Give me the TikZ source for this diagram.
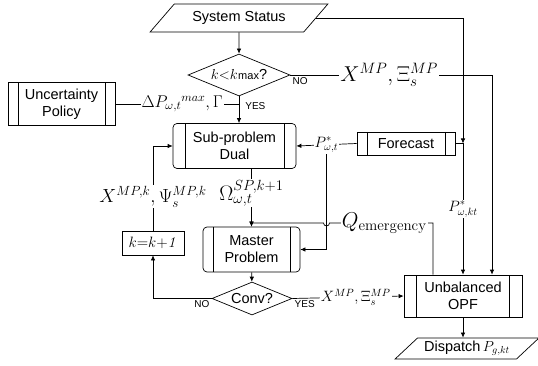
\documentclass[tikz,border=0pt]{standalone}
\usepackage{fix-cm}
\usepackage[no-math]{fontspec}
\setmainfont{Liberation Sans}
\usetikzlibrary{shapes.geometric,arrows.meta}

\newcommand\fsz[1]{\fontsize{#1}{#1}\selectfont}

\tikzset{
  flow/.style={-{Latex[length=5pt,width=4.5pt]}},
  proc/.style={draw, align=center, inner sep=0pt,
    font=\fontsize{14.5}{17}\selectfont,
    path picture={\draw ([xshift=#1]path picture bounding box.north west) -- ([xshift=#1]path picture bounding box.south west)
      ([xshift=-#1]path picture bounding box.north east) -- ([xshift=-#1]path picture bounding box.south east);}},
  proc/.default=10pt,
  io/.style={draw, trapezium, trapezium left angle=37, trapezium right angle=143,
    trapezium stretches=true, inner sep=0pt, font=\fontsize{14.5}{17}\selectfont},
  decide/.style={draw, diamond, aspect=2.4, inner sep=0pt, font=\fontsize{14.5}{17}\selectfont},
  lbl/.style={fill=white, inner sep=1pt},
  yesno/.style={inner sep=2pt, font=\fontsize{10}{10}\selectfont},
}

\begin{document}
\begin{tikzpicture}[x=1pt, y=-1pt, line width=0.7pt]
    \useasboundingbox (0,0) rectangle (538,366);

    \node[io, minimum width=178pt, minimum height=28pt] (status) at (239,18) {System Status};
    \node[decide, minimum width=102pt, minimum height=42pt] (kmax) at (239,75) {$k{<}k$\kern.5pt{\fsz{11}max}?};
    \node[proc, minimum width=107pt, minimum height=43pt] (policy) at (61.5,104) {Uncertainty\\Policy};
    \node[proc=12pt, rounded corners=4pt, minimum width=123pt, minimum height=45pt] (sub) at (234.5,146) {Sub-problem\\Dual};
    \node[proc, minimum width=98pt, minimum height=23pt] (forecast) at (406,143.5) {Forecast};
    \node[proc, rounded corners=4pt, minimum width=97pt, minimum height=45pt] (master) at (251.5,249.5) {Master\\Problem};
    \node[draw, minimum width=62pt, minimum height=24pt, font=\fsz{15}] (incr) at (153,243) {$k{=}k{+}\mathit{1}$};
    \node[decide, minimum width=80pt, minimum height=33pt] (conv) at (252,298.5) {Conv?};
    \node[proc=12.5pt, minimum width=118pt, minimum height=42pt] (opf) at (463,296) {Unbalanced\\OPF};
    \node[io, minimum width=144pt, minimum height=21pt] (dispatch) at (467,348.5) {Dispatch\,$P_{g,kt}$};

    \coordinate (xtop) at (492,75);
    \coordinate (fjoin) at (463,143.5);
    \coordinate (qtop) at (433,223);

    \draw[flow] (status) -- (kmax);
    \draw[flow] (kmax.south) -- node[right, yesno, pos=.36, xshift=4pt]{YES} (kmax.south |- sub.north);
    \draw (policy.east) -- node[lbl, pos=.54]{\fsz{17}$\Delta P_{\omega,t}{}^{max},\Gamma$} (policy -| kmax.south);
    \draw[flow] (kmax.east) -- node[pos=0, below right, yesno]{NO}
        node[lbl, pos=.49]{\fsz{21.5}$X^{MP},\Xi_s^{MP}$} (xtop) -- (xtop |- opf.north);

    % forecast and system status feed the OPF
    \draw[flow] (status.east) -| (fjoin);
    \draw (forecast.east) -- (fjoin);
    \draw[flow] (fjoin) -- node[lbl]{\fsz{15}$P^*_{\omega,kt}$} (fjoin |- opf.north);
    \draw[flow] (forecast.west) -- node[lbl] (pst) {\fsz{15}$P^*_{\omega,t}$} (sub.east);
    \draw[flow] (pst.south) |- (master.east);

    \draw[flow] (sub.south -| master.north) -- node[lbl, pos=.42]{\fsz{21}$\Omega^{SP,k+1}_{\omega,t}$} (master.north);
    \draw[flow] (qtop |- opf.north) -- (qtop) -- node[lbl, pos=.47]{\fsz{21.5}$Q_{\mathrm{emergency}}$} ([xshift=3pt]pst.south |- qtop)
        arc[start angle=0, end angle=-180, radius=3pt] -- (master.north |- qtop) -- (master.north);

    \draw[flow] (master) -- (conv);
    \draw[flow] (conv.west) -- node[pos=0, below left, yesno]{NO} (conv.west -| incr.south) -- (incr.south);
    \draw[flow] (incr.north) -- node[lbl, pos=.4]{\fsz{19}$X^{MP,k},\Psi_s^{MP,k}$} (incr.north |- sub.west) -- (sub.west);
    \draw[flow] (conv.east) -- node[pos=0, below right, yesno]{YES}
        node[lbl, pos=.57]{\fsz{15}$X^{MP},\Xi_s^{MP}$} (opf.west);
    \draw[flow] (opf.south) -- (opf.south |- dispatch.north);
\end{tikzpicture}
\end{document}
